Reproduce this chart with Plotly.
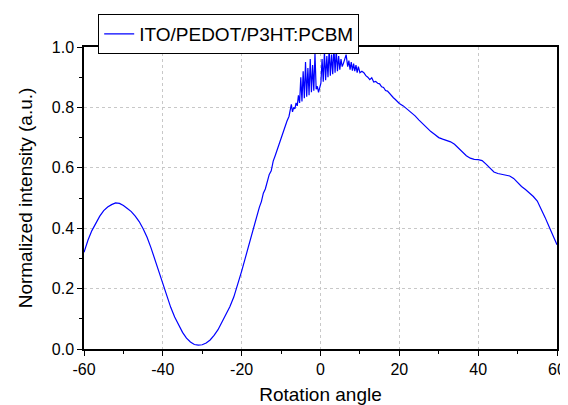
import plotly.graph_objects as go

# Rotation angle (deg) and normalized intensity
angle = [
    -60, -59, -58, -57, -56, -55, -54, -53, -52, -51, -50, -49, -48, -47, -46,
    -45, -44, -43, -42, -41, -40, -39, -38, -37, -36, -35, -34, -33, -32, -31,
    -30, -29, -28, -27, -26, -25, -24, -23, -22, -21, -20, -19, -18, -17.5, -17,
    -16.5, -16, -15.5, -15, -14.5, -14, -13.5, -13, -12.5, -12, -11.5, -11, -10.5,
    -10, -9.5, -9, -8.5,
    -8.0, -7.7, -7.4, -7.1, -6.8, -6.5, -6.2, -5.9, -5.6, -5.3, -5.0, -4.7, -4.4,
    -4.1, -3.8, -3.5, -3.2, -2.9, -2.6, -2.3, -2.0, -1.7, -1.4, -1.1, -0.8, -0.5,
    -0.2, 0.1, 0.4, 0.7, 1.0, 1.3, 1.6, 1.9, 2.2, 2.5, 2.8, 3.1, 3.4, 3.7, 4.0,
    4.3, 4.6, 4.9, 5.2, 5.5, 5.8, 6.1, 6.5, 6.9, 7.2, 7.5, 7.8, 8.1, 8.4, 8.7,
    9.0, 9.3, 9.6, 10.0, 10.5, 11, 11.5, 12, 12.5, 13, 13.5, 14, 14.5, 15,
    15.5, 16, 16.5, 17, 17.5, 18, 18.5, 19, 19.5, 20,
    21, 22, 23, 24, 25, 26, 27, 28, 29, 30, 31, 32, 33, 34, 35, 36, 37, 38, 39,
    40, 41, 42, 43, 44, 45, 46, 47, 48, 49, 50, 51, 52, 53, 54, 55, 56, 57, 58,
    59, 60,
]
intensity = [
    0.320, 0.360, 0.392, 0.418, 0.440, 0.458, 0.470, 0.478, 0.484, 0.482, 0.475,
    0.465, 0.455, 0.440, 0.422, 0.398, 0.370, 0.335, 0.296, 0.255, 0.212, 0.172,
    0.138, 0.106, 0.078, 0.055, 0.036, 0.023, 0.015, 0.013, 0.014, 0.020, 0.030,
    0.045, 0.064, 0.088, 0.113, 0.140, 0.172, 0.212, 0.258, 0.305, 0.352, 0.380,
    0.400, 0.428, 0.448, 0.470, 0.488, 0.516, 0.530, 0.556, 0.578, 0.590, 0.622,
    0.640, 0.660, 0.680, 0.700, 0.722, 0.740, 0.755,
    0.770, 0.790, 0.810, 0.785, 0.800, 0.795, 0.815, 0.805, 0.840, 0.815, 0.900,
    0.820, 0.920, 0.830, 0.950, 0.835, 0.930, 0.840, 0.960, 0.850, 0.940, 0.855,
    0.980, 0.860, 0.870, 0.850, 0.870, 0.880, 0.960, 0.885, 0.985, 0.890, 0.970,
    0.900, 0.995, 0.905, 0.975, 0.910, 1.000, 0.915, 0.990, 0.920, 0.970, 0.925,
    0.960, 0.935, 0.945, 0.955, 0.975, 0.935, 0.955, 0.925, 0.950, 0.922, 0.945,
    0.920, 0.940, 0.915, 0.935, 0.915, 0.920, 0.915, 0.905, 0.900, 0.892, 0.898,
    0.884, 0.886, 0.880, 0.878, 0.868, 0.866, 0.856, 0.854, 0.846, 0.840, 0.832,
    0.826, 0.818, 0.813, 0.805,
    0.795, 0.785, 0.772, 0.758, 0.745, 0.730, 0.720, 0.710, 0.700, 0.695, 0.690,
    0.686, 0.678, 0.665, 0.652, 0.640, 0.632, 0.628, 0.627, 0.624, 0.612, 0.598,
    0.586, 0.581, 0.579, 0.577, 0.573, 0.565, 0.550, 0.538, 0.528, 0.518, 0.505,
    0.490, 0.465, 0.435, 0.405, 0.375, 0.345, 0.315,
]

series_name = "ITO/PEDOT/P3HT:PCBM"
x_title = "Rotation angle"
y_title = "Normalized intensity (a.u.)"

fig = go.Figure()
fig.add_trace(go.Scatter(
    x=angle, y=intensity, mode="lines", name=series_name,
    line=dict(color="#0000ff", width=1.2),
))

font = "Liberation Sans, Arial, sans-serif"
# the page body adds an 8px offset, so the figure is 560x397
fig.update_layout(
    width=560, height=397,
    margin=dict(l=76, r=11, t=39, b=56, autoexpand=False),
    paper_bgcolor="white", plot_bgcolor="white",
    font=dict(family=font, color="black", size=16),
    showlegend=True,
    legend=dict(
        x=0.03, y=1.109, xanchor="left", yanchor="top",
        bgcolor="white", bordercolor="black", borderwidth=1,
        font=dict(size=19, family=font), itemwidth=30,
        tracegroupgap=0,
    ),
)
fig.update_xaxes(
    range=[-60, 60], tickmode="array",
    tickvals=[-60, -40, -20, 0, 20, 40, 60],
    ticktext=["-60", "-40", "-20", "0", "20", "40", "60"],
    ticks="outside", ticklen=5, tickwidth=1, tickcolor="black",
    minor=dict(ticks="outside", ticklen=3, tickwidth=1, tickcolor="black",
               dtick=10, tick0=-60, showgrid=False),
    showline=True, linecolor="black", linewidth=1.5, mirror=True,
    showgrid=True, gridcolor="#c8c8c8", griddash="dot", gridwidth=1,
    zeroline=False, automargin=False,
    title=dict(text=x_title, font=dict(size=19), standoff=11),
    tickfont=dict(size=16),
)
fig.update_yaxes(
    range=[0, 1.0], tickmode="array",
    tickvals=[0, 0.2, 0.4, 0.6, 0.8, 1.0],
    ticktext=["0.0", "0.2", "0.4", "0.6", "0.8", "1.0"],
    ticks="outside", ticklen=5, tickwidth=1, tickcolor="black",
    minor=dict(ticks="outside", ticklen=3, tickwidth=1, tickcolor="black",
               dtick=0.1, tick0=0, showgrid=False),
    showline=True, linecolor="black", linewidth=1.5, mirror=True,
    showgrid=True, gridcolor="#c8c8c8", griddash="dot", gridwidth=1,
    zeroline=False, automargin=False,
    title=dict(text=y_title, font=dict(size=19), standoff=14),
    tickfont=dict(size=16),
)

fig.write_html("out.html")
